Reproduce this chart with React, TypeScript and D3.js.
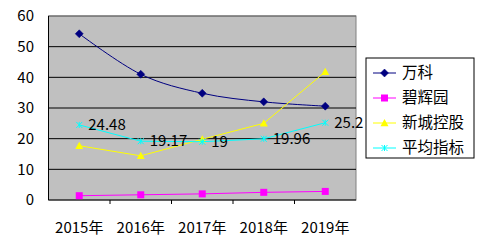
import React from "react";
import * as d3 from "d3";

const categories = ["2015年", "2016年", "2017年", "2018年", "2019年"];
const seriesNames = ["万科", "碧辉园", "新城控股", "平均指标"];
const vanke = [54.2, 41, 34.8, 32, 30.6];
const bihuiyuan = [1.4, 1.7, 2.0, 2.5, 2.8];
const xincheng = [17.7, 14.4, 19.8, 25, 41.8];
const average = [24.48, 19.17, 19, 19.96, 25.2];
const yTicks = [0, 10, 20, 30, 40, 50, 60];

const colors = ["#000080", "#FF00FF", "#FFFF00", "#00FFFF"];
const FONT = "'Noto Sans CJK SC', 'DejaVu Sans', sans-serif";

function Marker({ kind, x, y, color }: { kind: number; x: number; y: number; color: string }) {
  if (kind === 0) {
    const s = 4;
    return <path d={`M${x},${y - s}L${x + s},${y}L${x},${y + s}L${x - s},${y}Z`} fill={color} stroke={color} strokeWidth={0.5} />;
  }
  if (kind === 1) {
    const s = 3.5;
    return <rect x={x - s} y={y - s} width={2 * s} height={2 * s} fill={color} />;
  }
  if (kind === 2) {
    const s = 4;
    return <path d={`M${x},${y - s}L${x + s},${y + s * 0.8}L${x - s},${y + s * 0.8}Z`} fill={color} />;
  }
  const s = 3;
  return (
    <path
      d={`M${x - s},${y - s}L${x + s},${y + s}M${x - s},${y + s}L${x + s},${y - s}M${x},${y - s}L${x},${y + s}`}
      stroke={color}
      strokeWidth={1}
      fill="none"
    />
  );
}

export default function App() {
  const W = 488, H = 243;
  const left = 48.5, right = 356, top = 16, bottom = 200;
  const x = d3.scaleBand<string>().domain(categories).range([left, right]);
  const y = d3.scaleLinear().domain([0, 60]).range([bottom, top]);
  const cx = (c: string) => (x(c) as number) + x.bandwidth() / 2;
  const data = [vanke, bihuiyuan, xincheng, average];
  const lineStraight = d3.line<number>().x((_, i) => cx(categories[i])).y((v) => y(v));
  const lineSmooth = d3.line<number>().x((_, i) => cx(categories[i])).y((v) => y(v)).curve(d3.curveCardinal.tension(0));

  const legendX = 366, legendY = 58, legendW = 108, legendH = 100;
  const legendRows = [73, 98, 123, 148];

  return (
    <svg width={W} height={H} style={{ position: "absolute", left: 0, top: 0, background: "#fff" }} fontFamily={FONT}>
      <rect x={left} y={top} width={right - left} height={bottom - top} fill="#C0C0C0" stroke="#808080" strokeWidth={1} />
      {yTicks.map((t) => (
        <g key={t}>
          {t > 0 && t < 60 && <line x1={left} x2={right} y1={y(t)} y2={y(t)} stroke="#000" strokeWidth={1} />}
          <text x={34} y={y(t)} dy="0.35em" textAnchor="end" fontSize={15} fill="#000">
            {t}
          </text>
        </g>
      ))}
      <line x1={left} x2={right} y1={top} y2={top} stroke="#606060" />
      <line x1={left} x2={left} y1={top} y2={bottom} stroke="#000" />
      <line x1={left} x2={right} y1={bottom} y2={bottom} stroke="#000" />
      {categories.map((c, i) => (
        <g key={c}>
          {i > 0 && <line x1={x(c) as number} x2={x(c) as number} y1={bottom} y2={bottom + 4} stroke="#000" />}
          <text x={cx(c)} y={228} dy="0.35em" textAnchor="middle" fontSize={15} fill="#000">
            {c}
          </text>
        </g>
      ))}
      {data.map((vals, si) => (
        <g key={si}>
          <path d={(si === 0 ? lineSmooth : lineStraight)(vals) as string} fill="none" stroke={colors[si]} strokeWidth={1} />
          {vals.map((v, i) => (
            <Marker key={i} kind={si} x={cx(categories[i])} y={y(v)} color={colors[si]} />
          ))}
        </g>
      ))}
      {average.map((v, i) => (
        <text key={i} x={cx(categories[i]) + 9} y={y(v)} dy="0.35em" fontSize={15} fill="#000">
          {String(v)}
        </text>
      ))}
      <rect x={legendX} y={legendY} width={legendW} height={legendH} fill="#fff" stroke="#000" strokeWidth={1} />
      {seriesNames.map((n, i) => (
        <g key={n}>
          <line x1={373} x2={396} y1={legendRows[i]} y2={legendRows[i]} stroke={colors[i]} />
          <Marker kind={i} x={384.5} y={legendRows[i]} color={colors[i]} />
          <text x={402} y={legendRows[i]} dy="0.35em" fontSize={15.5} fill="#000">
            {n}
          </text>
        </g>
      ))}
    </svg>
  );
}
